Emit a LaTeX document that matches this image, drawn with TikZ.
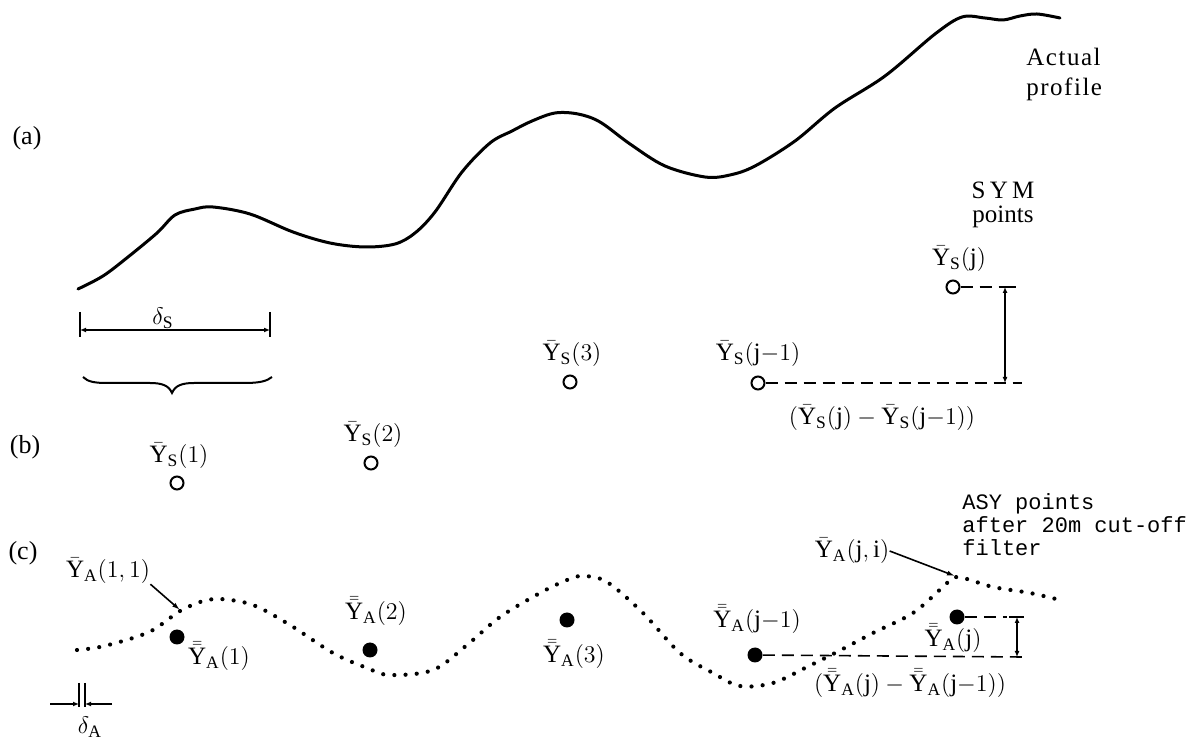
\documentclass[tikz,border=0pt]{standalone}
\usepackage{fontspec}
\setmainfont{Liberation Serif}
\setmonofont{Liberation Mono}
\usetikzlibrary{arrows.meta}
\newcommand{\Ys}{\bar{\mathrm{Y}}_{\mathrm{S}}}
\newcommand{\Ya}{\bar{\mathrm{Y}}_{\mathrm{A}}}
\newcommand{\Yaa}{\bar{\bar{\mathrm{Y}}}_{\mathrm{A}}}
\begin{document}
\begin{tikzpicture}[x=0.5pt,y=-0.5pt,
  profile/.style={line width=1.5pt, line join=round, line cap=round},
  dotline/.style={line width=2.1pt, line cap=round, dash pattern=on 0pt off 5.6pt},
  dashline/.style={line width=0.8pt, dash pattern=on 6pt off 3.5pt},
  solidthin/.style={line width=0.8pt},
  opencirc/.style={circle, draw, line width=1pt, minimum size=6.5pt, inner sep=0pt},
  fullcirc/.style={circle, fill, minimum size=7.5pt, inner sep=0pt},
  lbl/.style={font=\fontsize{12.5}{14}\selectfont, inner sep=0pt},
  tag/.style={font=\fontsize{13}{15}\selectfont, inner sep=0pt},
  mono/.style={font=\ttfamily\fontsize{11}{11.5}\selectfont, inner sep=0pt},
  dim/.style={line width=0.7pt, {Latex[length=3pt,width=2.5pt]}-{Latex[length=3pt,width=2.5pt]}},
  arr/.style={line width=0.8pt, -{Latex[length=4pt,width=2.5pt]}},
  onearr/.style={line width=0.8pt, -{Latex[length=3pt,width=2.5pt]}},
]
\useasboundingbox (0,0) rectangle (1200,742);

% ---------- panel tags ----------
\node[tag] (ta) at (27,138) {(a)};
\node[tag] (tb) at (25,447) {(b)};
\node[tag] (tc) at (23,553) {(c)};

% ---------- (a) actual profile ----------
\draw[profile] plot[smooth, tension=0.55] coordinates {
 (78,289) (103,276) (128,257) (157,233) (175,215) (195,209) (213,207)
 (250,214) (293,232) (330,243) (365,247) (395,244) (415,233) (435,212)
 (462,172) (490,143) (512,131) (532,121) (555,113) (578,114) (600,122)
 (630,144) (665,166) (705,177) (730,175) (755,166) (795,141) (835,108)
 (885,76) (935,34) (962,17) (985,18) (1003,20) (1020,16) (1037,14) (1060,18)};
\node[lbl, align=left, anchor=north west, font=\fontsize{12.5}{15}\selectfont\addfontfeature{LetterSpace=6}] (act) at (1026,48) {Actual\\profile};

% ---------- delta_S dimension and brace ----------
\coordinate (dl) at (80,330);
\coordinate (dr) at (270,330);
\draw[solidthin] (80,312) -- (80,337);
\draw[solidthin] (270,312) -- (270,337);
\draw[dim] (dl) -- (dr);
\node[lbl] (ds) at (163,318) {$\delta_{\mathrm{S}}$};
\draw[line width=1pt] (83,377) .. controls (88,382) and (95,383) .. (108,383)
  -- (150,383) .. controls (163,383) and (169,386) .. (172,393)
  .. controls (175,386) and (181,383) .. (194,383)
  -- (245,383) .. controls (260,383) and (267,381) .. (272,377);

% ---------- (b) SYM points ----------
\node[lbl, align=center, font=\fontsize{12.5}{12}\selectfont] (sym) at (1003,205) {S\,Y\,M\\points};
\node[opencirc] (s1) at (177,483) {};
\node[opencirc] (s2) at (371,463) {};
\node[opencirc] (s3) at (570,382) {};
\node[opencirc] (sj1) at (758,383) {};
\node[opencirc] (sj) at (953,287) {};
\node[lbl] (ls1) at (179,456) {$\Ys(1)$};
\node[lbl] (ls2) at (373,435) {$\Ys(2)$};
\node[lbl] (ls3) at (572,354) {$\Ys(3)$};
\node[lbl] (lsj1) at (758,354) {$\Ys(\mathrm{j}{-}1)$};
\node[lbl] (lsj) at (959,259) {$\Ys(\mathrm{j})$};

\coordinate (sjt) at (1000,287);
\coordinate (sjb) at (1022,383);
\coordinate (vt) at (1005,287);
\coordinate (vb) at (1005,383);
\draw[dashline] (sj) -- (sjt);
\draw[solidthin] (1000,287) -- (1016,287);
\draw[dashline] (sj1) -- (sjb);
\draw[dim] (vt) -- (vb);
\node[lbl] (dsl) at (882,418) {$(\Ys(\mathrm{j})-\Ys(\mathrm{j}{-}1))$};

% ---------- (c) ASY points ----------
\draw[dotline] plot[smooth, tension=0.55] coordinates {
 (77,650) (100,647) (133,638) (153,630) (170,618) (180,611) (200,602)
 (220,599) (253,605) (290,625) (333,653) (367,668) (390,675) (433,670)
 (467,645) (500,617) (540,593) (567,580) (583,576) (607,582) (643,613)
 (680,653) (713,673) (740,686) (773,683) (807,667) (837,652) (873,633)
 (913,613) (943,587) (957,577) (993,587) (1030,593) (1060,600)};

\node[fullcirc] (a1) at (177,637) {};
\node[fullcirc] (a2) at (370,650) {};
\node[fullcirc] (a3) at (567,620) {};
\node[fullcirc] (aj1) at (755,655) {};
\node[fullcirc] (aj) at (957,617) {};

\node[lbl] (la11) at (108,571) {$\Ya(1,1)$};
\coordinate (c11) at (180,610);
\draw[arr] (la11.south east) -- (c11);
\node[lbl] (la1) at (219,656) {$\Yaa(1)$};
\node[lbl] (la2) at (376,611) {$\Yaa(2)$};
\node[lbl] (la3) at (574,654) {$\Yaa(3)$};
\node[lbl] (laj1) at (757,619) {$\Yaa(\mathrm{j}{-}1)$};
\node[lbl] (laj) at (953,638) {$\Yaa(\mathrm{j})$};

\node[lbl] (laji) at (852,551) {$\Ya(\mathrm{j},\mathrm{i})$};
\coordinate (cji) at (955,576);
\draw[arr] (laji.east) -- (cji);

\node[mono, align=left, anchor=north west] (asy) at (962,493) {ASY points\\after 20m cut-off\\filter};

\coordinate (ajt) at (1007,617);
\coordinate (ajb) at (1023,657);
\coordinate (wt) at (1017,617);
\coordinate (wb) at (1017,657);
\draw[dashline] (aj) -- (ajt);
\draw[solidthin] (1009,617) -- (1024,617);
\draw[dashline] (aj1) -- (ajb);
\draw[dim] (wt) -- (wb);
\node[lbl] (dal) at (910,683) {$(\Yaa(\mathrm{j})-\Yaa(\mathrm{j}{-}1))$};

% ---------- delta_A ----------
\coordinate (ad1) at (79,704);
\coordinate (ad2) at (85,704);
\coordinate (ae1) at (50,704);
\coordinate (ae2) at (112,704);
\draw[solidthin] (79,683) -- (79,707);
\draw[solidthin] (85,683) -- (85,707);
\draw[onearr] (ae1) -- (ad1);
\draw[onearr] (ae2) -- (ad2);
\node[lbl] (da) at (90,727) {$\delta_{\mathrm{A}}$};
\end{tikzpicture}
\end{document}
